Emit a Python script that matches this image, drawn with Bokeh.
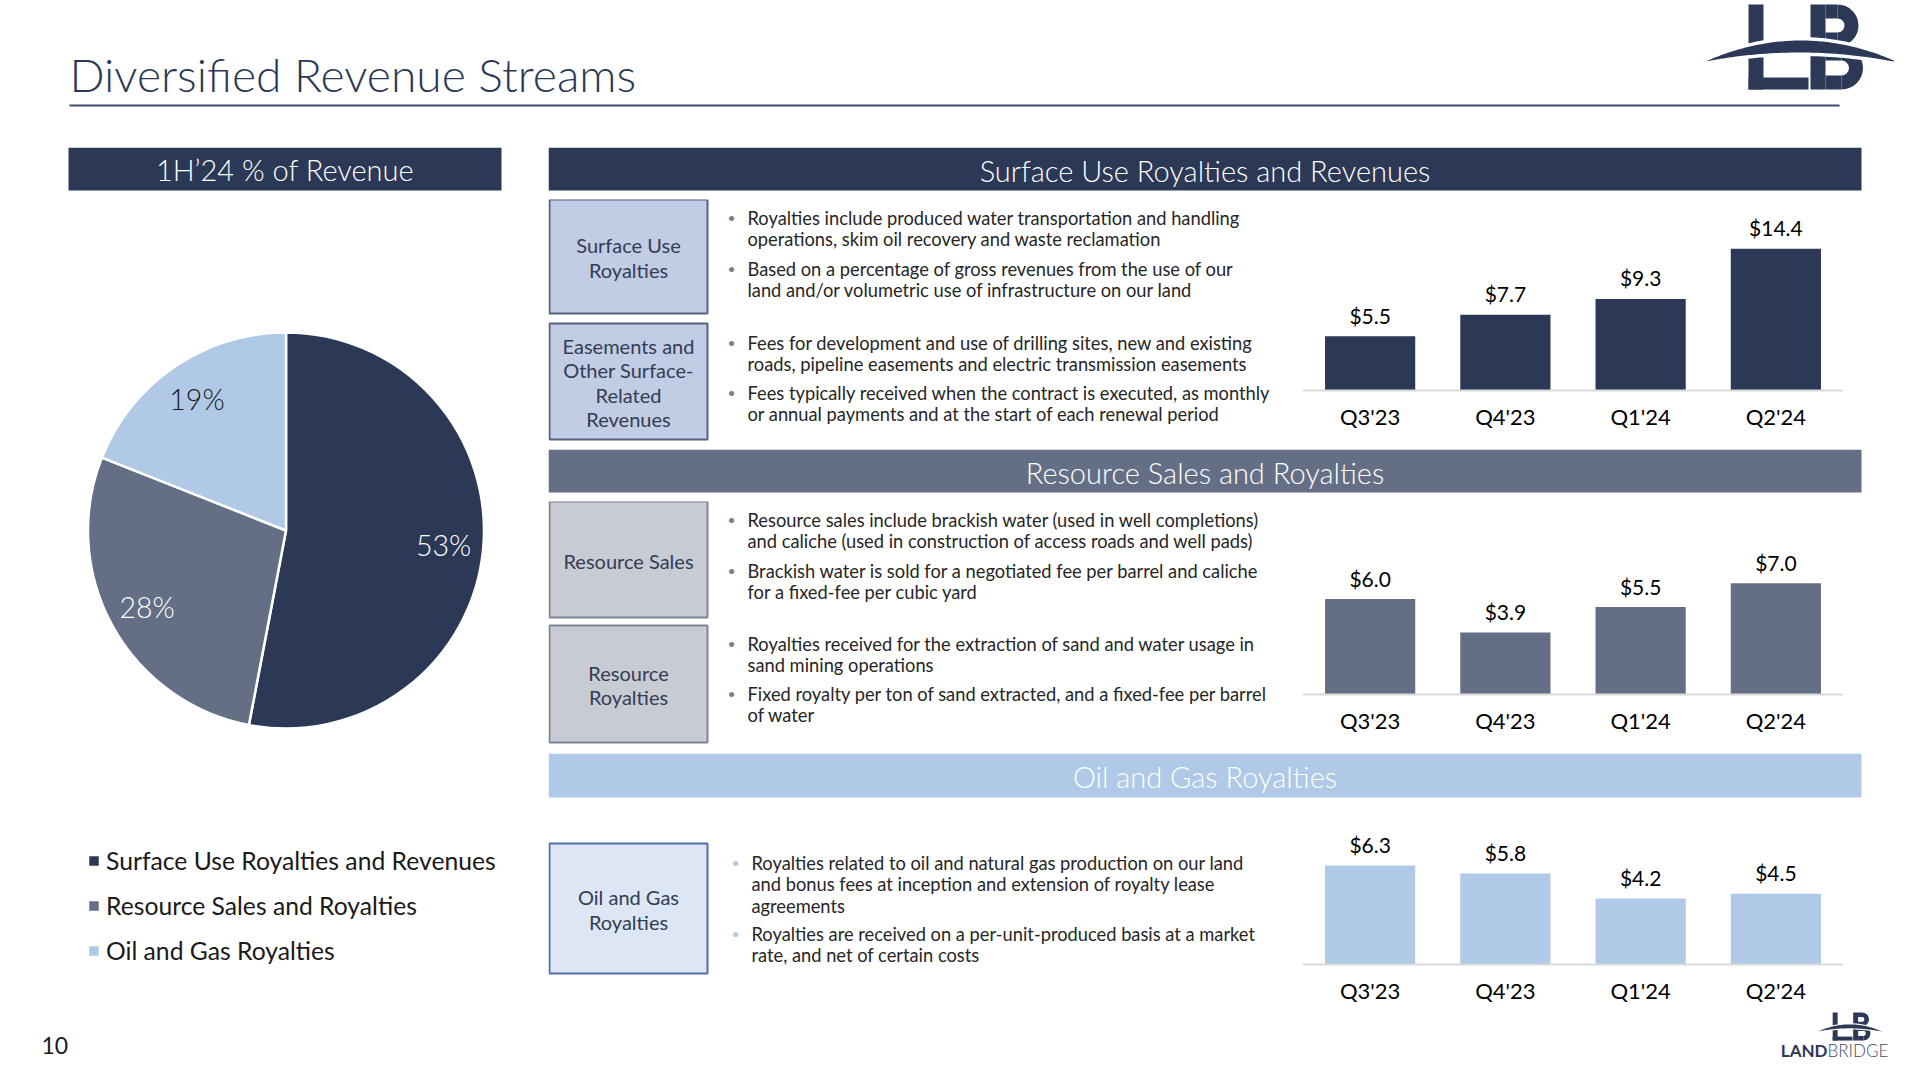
import numpy as np
from bokeh.plotting import figure
from bokeh.models import Range1d, FactorRange, ColumnDataSource, Span
from bokeh.layouts import column, row
from bokeh.core.properties import value
from bokeh.embed import file_html
from bokeh.resources import INLINE

# ---------------- data ----------------
quarters = ["Q3'23", "Q4'23", "Q1'24", "Q2'24"]
surface_use_rev = [5.5, 7.7, 9.3, 14.4]
resource_sales_rev = [6.0, 3.9, 5.5, 7.0]
oil_gas_rev = [6.3, 5.8, 4.2, 4.5]

mix_names = ["Surface Use Royalties and Revenues", "Resource Sales and Royalties", "Oil and Gas Royalties"]
mix_pct = [53, 28, 19]

title_text = "Diversified Revenue Streams"
pie_title = "1H\u201924 % of Revenue"
section_titles = ["Surface Use Royalties and Revenues", "Resource Sales and Royalties", "Oil and Gas Royalties"]

s1_boxes = [["Surface Use", "Royalties"], ["Easements and", "Other Surface-", "Related", "Revenues"]]
s1_bullets = [
    ["Royalties include produced water transportation and handling", "operations, skim oil recovery and waste reclamation"],
    ["Based on a percentage of gross revenues from the use of our", "land and/or volumetric use of infrastructure on our land"],
    ["Fees for development and use of drilling sites, new and existing", "roads, pipeline easements and electric transmission easements"],
    ["Fees typically received when the contract is executed, as monthly", "or annual payments and at the start of each renewal period"],
]
s2_boxes = [["Resource Sales"], ["Resource", "Royalties"]]
s2_bullets = [
    ["Resource sales include brackish water (used in well completions)", "and caliche (used in construction of access roads and well pads)"],
    ["Brackish water is sold for a negotiated fee per barrel and caliche", "for a fixed-fee per cubic yard"],
    ["Royalties received for the extraction of sand and water usage in", "sand mining operations"],
    ["Fixed royalty per ton of sand extracted, and a fixed-fee per barrel", "of water"],
]
s3_boxes = [["Oil and Gas", "Royalties"]]
s3_bullets = [
    ["Royalties related to oil and natural gas production on our land", "and bonus fees at inception and extension of royalty lease", "agreements"],
    ["Royalties are received on a per-unit-produced basis at a market", "rate, and net of certain costs"],
]
page_number = "10"

# ---------------- styles ----------------
NAVY = "#2B3856"
SLATE = "#646E85"
SKY = "#B0C9E7"
FONT = value("Lato")
LIGHT_FONT = value("'Lato Light', Lato")
TEXT_DARK = "#262626"


def canvas(x0, x1, y0, y1):
    p = figure(width=x1 - x0, height=y1 - y0, x_range=Range1d(x0, x1), y_range=Range1d(-y1, -y0),
               output_backend="svg", toolbar_location=None, title=None,
               x_axis_location=None, y_axis_location=None, min_border=0)
    p.grid.visible = False
    p.outline_line_color = None
    return p


def txt(p, xs, ys, texts, size, color=TEXT_DARK, align="left", baseline="middle", style="normal", font=FONT):
    p.text(x=list(xs), y=[-y for y in ys], text=list(texts), text_font=font, text_font_size=size,
           text_color=color, text_align=align, text_baseline=baseline, text_font_style=style)


def draw_logo(p, X0, Y0, s):
    qs = [(43, 58, 0, 85), (43, 103, 73, 85), (105, 120, 0, 85), (120, 132, 0, 14),
          (120, 132, 28, 42), (120, 136, 42, 56), (120, 136, 71, 85)]
    p.quad(left=[X0 + s * q[0] for q in qs], right=[X0 + s * q[1] for q in qs],
           top=[-(Y0 + s * q[2]) for q in qs], bottom=[-(Y0 + s * q[3]) for q in qs],
           fill_color=NAVY, line_color=None)
    p.annular_wedge(x=[X0 + s * 132, X0 + s * 136], y=[-(Y0 + s * 21), -(Y0 + s * 63.5)],
                    inner_radius=[7 * s, 7.5 * s], outer_radius=[21 * s, 21.5 * s],
                    start_angle=-np.pi / 2, end_angle=np.pi / 2, fill_color=NAVY, line_color=None)
    xs = np.linspace(0, 193, 90)
    ct = np.polyfit([0, 95, 193], [57, 36, 58], 2)
    cb = np.polyfit([0, 95, 193], [57, 48, 58], 2)
    yt = np.polyval(ct, xs)
    yb = np.polyval(cb, xs)
    gap = 3.5
    px = np.concatenate([xs, xs[::-1]])
    pyw = np.concatenate([yt - gap, (yb + gap)[::-1]])
    pyn = np.concatenate([yt, yb[::-1]])
    p.patch(X0 + s * px, -(Y0 + s * pyw), fill_color="white", line_color=None)
    p.patch(X0 + s * px, -(Y0 + s * pyn), fill_color=NAVY, line_color=None)


# ---------------- top band ----------------
top = canvas(0, 1894, 0, 147)
txt(top, [69], [73], [title_text], "46.2px", NAVY, font=LIGHT_FONT)
top.segment(x0=[69], y0=[-105], x1=[1839], y1=[-105], line_color="#3E4C6B", line_width=2)
draw_logo(top, 1705, 4, 1.0)

# ---------------- left panel (pie) ----------------
left = canvas(0, 548, 147, 1060)
left.quad(left=[68], right=[501], top=[-147], bottom=[-190], fill_color=NAVY, line_color=None)
txt(left, [284.5], [169], [pie_title], "29px", "white", align="center", font=LIGHT_FONT)

cx, cy, R = 285.5, 530.0, 198.0
frac = np.array(mix_pct, dtype=float) / sum(mix_pct)
cum_end = np.cumsum(frac)
cum_start = cum_end - frac
start = np.pi / 2 - 2 * np.pi * cum_end
end = np.pi / 2 - 2 * np.pi * cum_start
src = ColumnDataSource(dict(name=mix_names, pct=mix_pct, start=start, end=end,
                            color=[NAVY, SLATE, SKY]))
left.wedge(x=cx, y=-cy, radius=R, start_angle="start", end_angle="end", direction="anticlock",
           fill_color="color", line_color="white", line_width=2.5, legend_field="name", source=src)
mid = (start + end) / 2
lx = cx + 0.8 * R * np.cos(mid)
ly = -cy + 0.8 * R * np.sin(mid)
left.text(x=lx, y=ly, text=[f"{v}%" for v in mix_pct], text_font=LIGHT_FONT, text_font_size="28.5px",
          text_color=["white", "white", "#1a1a1a"], text_align="center", text_baseline="middle")

leg = left.legend[0]
leg.location = (86, 95)
leg.glyph_width = 15
leg.glyph_height = 15
leg.label_height = 30
leg.spacing = 15
leg.padding = 0
leg.margin = 0
leg.label_standoff = 5
leg.border_line_color = None
leg.background_fill_alpha = 0
leg.label_text_font = "Lato"
leg.label_text_font_size = "24.7px"
leg.label_text_color = "#1a1a1a"

txt(left, [41], [1045], [page_number], "23px", "#1a1a1a")


# ---------------- right panels ----------------
def header(y0, y1, rect_bottom, label, fill):
    p = canvas(548, 1894, y0, y1)
    p.quad(left=[548], right=[1861], top=[-y0], bottom=[-rect_bottom], fill_color=fill, line_color=None)
    txt(p, [1204.5], [(y0 + rect_bottom) / 2 + 1], [label], "29px", "white", align="center",
        font=LIGHT_FONT)
    return p


def text_panel(y0, y1, boxes, box_spans, bullets, bullet_tops, box_fill, box_line, bullet_color, bx, tx):
    p = canvas(548, 1302, y0, y1)
    for (bt, bb), lines in zip(box_spans, boxes):
        p.quad(left=[549], right=[707], top=[-bt], bottom=[-bb], fill_color=box_fill,
               line_color=box_line, line_width=2)
        cyb = (bt + bb) / 2 + 1
        n = len(lines)
        ys = [cyb + (i - (n - 1) / 2) * 24.5 for i in range(n)]
        txt(p, [628] * n, ys, lines, "20px", "#333C52", align="center")
    for y_first, lines in zip(bullet_tops, bullets):
        txt(p, [bx], [y_first], ["\u2022"], "14px", bullet_color, align="center")
        ys = [y_first + i * 21.5 for i in range(len(lines))]
        txt(p, [tx] * len(lines), ys, lines, "18.3px", TEXT_DARK)
    return p


def bars(y0, y1, baseline, scale, vals, color):
    h = y1 - y0
    p = figure(width=541, height=h, x_range=FactorRange(factors=quarters),
               y_range=Range1d(-(y1 - baseline) / scale, (baseline - y0) / scale),
               output_backend="svg", toolbar_location=None, title=None,
               x_axis_location=None, y_axis_location=None, min_border=0)
    p.grid.visible = False
    p.outline_line_color = None
    p.vbar(x=quarters, top=vals, bottom=0, width=0.667, fill_color=color, line_color=None)
    p.add_layout(Span(location=0, dimension="width", line_color="#D9D9D9", line_width=2))
    p.text(x=quarters, y=[v + 21 / scale for v in vals], text=[f"${v:.1f}" for v in vals],
           text_font=FONT, text_font_size="21px", text_color="black", text_align="center",
           text_baseline="middle")
    p.text(x=quarters, y=[-26 / scale] * len(quarters), text=quarters,
           text_font=FONT, text_font_size="22px", text_color="black", text_align="center",
           text_baseline="middle")
    return p


h1 = header(147, 199, 190, section_titles[0], NAVY)
t1 = text_panel(199, 449, s1_boxes, [(199, 313), (323, 439)], s1_bullets, [217, 268, 342, 392],
                "#C2CCE4", "#55627F", "#7F7F7F", 731, 747)
b1 = bars(199, 449, 390, 9.85, surface_use_rev, NAVY)

h2 = header(449, 501, 492, section_titles[1], SLATE)
t2 = text_panel(501, 753, s2_boxes, [(501, 617), (625, 742)], s2_bullets, [519, 570, 643, 693],
                "#C8CBD3", "#7D8495", "#7F7F7F", 731, 747)
b2 = bars(501, 753, 694, 15.9, resource_sales_rev, SLATE)

h3 = header(753, 820, 797, section_titles[2], SKY)
t3 = text_panel(820, 1008, s3_boxes, [(843, 973)], s3_bullets, [862, 933],
                "#DCE6F4", "#4E72A8", SKY, 735, 751)
b3 = bars(820, 1008, 964, 15.7, oil_gas_rev, SKY)

bottom = canvas(548, 1894, 1008, 1060)
draw_logo(bottom, 1818, 1012, 0.33)
txt(bottom, [1827], [1050], ["LAND"], "17px", NAVY, align="right", style="bold")
txt(bottom, [1827], [1050], ["BRIDGE"], "17px", "#3D4A68", align="left", font=LIGHT_FONT)

right_col = column(h1, row(t1, b1), h2, row(t2, b2), h3, row(t3, b3), bottom)
layout = column(top, row(left, right_col))

open("out.html", "w").write(file_html(layout, INLINE))
